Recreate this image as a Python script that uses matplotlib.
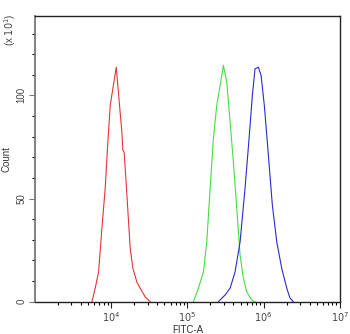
import numpy as np
import matplotlib
matplotlib.use('Agg')
import matplotlib.pyplot as plt
from matplotlib.ticker import LogLocator, MultipleLocator, NullFormatter

plt.rcParams['font.family'] = ['Liberation Sans', 'DejaVu Sans']

# histogram outlines: log10(FITC-A) and count (x10)
red_log = [3.747, 3.790, 3.834, 3.878, 3.921, 3.951, 3.987, 4.022, 4.066, 4.109,
           4.140, 4.153, 4.170, 4.206, 4.249, 4.284, 4.337, 4.380, 4.445, 4.511]
red_cnt = [0, 6.5, 14.4, 35.6, 55.0, 74.3, 95.2, 103.4, 113.7, 95.2,
           82.2, 73.4, 72.4, 51.6, 25.9, 16.2, 9.4, 6.5, 2.3, 0]

green_log = [5.079, 5.144, 5.210, 5.254, 5.298, 5.341, 5.385, 5.429, 5.472,
             5.516, 5.560, 5.603, 5.647, 5.691, 5.734, 5.779, 5.844, 5.887]
green_cnt = [0, 6.5, 14.4, 29.0, 55.0, 79.2, 95.2, 104.8, 114.5,
             106.4, 87.1, 67.7, 45.3, 22.5, 11.4, 4.7, 0.7, 0]

blue_log = [5.406, 5.494, 5.560, 5.625, 5.691, 5.756, 5.809, 5.852, 5.887, 5.931,
            5.966, 6.009, 6.062, 6.114, 6.172, 6.237, 6.303, 6.346, 6.389]
blue_cnt = [0, 3.2, 6.5, 14.4, 29.0, 55.0, 79.2, 100.0, 112.9, 113.7,
            109.7, 95.2, 71.1, 46.9, 29.0, 16.2, 6.5, 1.7, 0]

fig = plt.figure(figsize=(3.5, 3.34), dpi=100)
ax = fig.add_axes([0.1, 0.097, 0.871, 0.855])

ax.plot(10 ** np.array(red_log), red_cnt, color='#e43535', lw=0.8)
ax.plot(10 ** np.array(green_log), green_cnt, color='#44dd44', lw=0.8)
ax.plot(10 ** np.array(blue_log), blue_cnt, color='#2a2ad0', lw=0.8)

ax.set_xscale('log')
ax.set_xlim(1e3, 1e7)
ax.set_ylim(0, 138.5)

ax.xaxis.set_major_locator(LogLocator(base=10, numticks=10))
ax.xaxis.set_minor_locator(LogLocator(base=10, subs=np.arange(2, 10), numticks=20))
ax.xaxis.set_minor_formatter(NullFormatter())
ax.set_xticks([1e4, 1e5, 1e6, 1e7])
ax.set_xticklabels([r'$10^4$', r'$10^5$', r'$10^6$', r'$10^7$'])

ax.set_yticks([0, 50, 100])
ax.yaxis.set_minor_locator(MultipleLocator(10))
for lab in ax.get_yticklabels():
    lab.set_rotation(90)
    lab.set_va('center')

ax.tick_params(axis='both', which='major', labelsize=7, length=4, width=0.8, pad=2)
ax.tick_params(axis='both', which='minor', length=2.5, width=0.8)
ax.tick_params(axis='y', colors='#777777', labelcolor='#444444')
ax.tick_params(axis='x', colors='#222222', labelcolor='#444444')

for side in ['top', 'right', 'bottom']:
    ax.spines[side].set_color('#222222')
    ax.spines[side].set_linewidth(1.0)
ax.spines['left'].set_color('#777777')
ax.spines['left'].set_linewidth(1.3)

ax.set_xlabel('FITC-A', fontsize=7, color='#333333', labelpad=1)
ax.set_ylabel('Count', fontsize=7, color='#333333', labelpad=4)
fig.text(0.03, 0.91, r'(x $10^1$)', rotation=90, fontsize=7, color='#444444',
         ha='center', va='center')

fig.savefig('out.png', dpi=100)
